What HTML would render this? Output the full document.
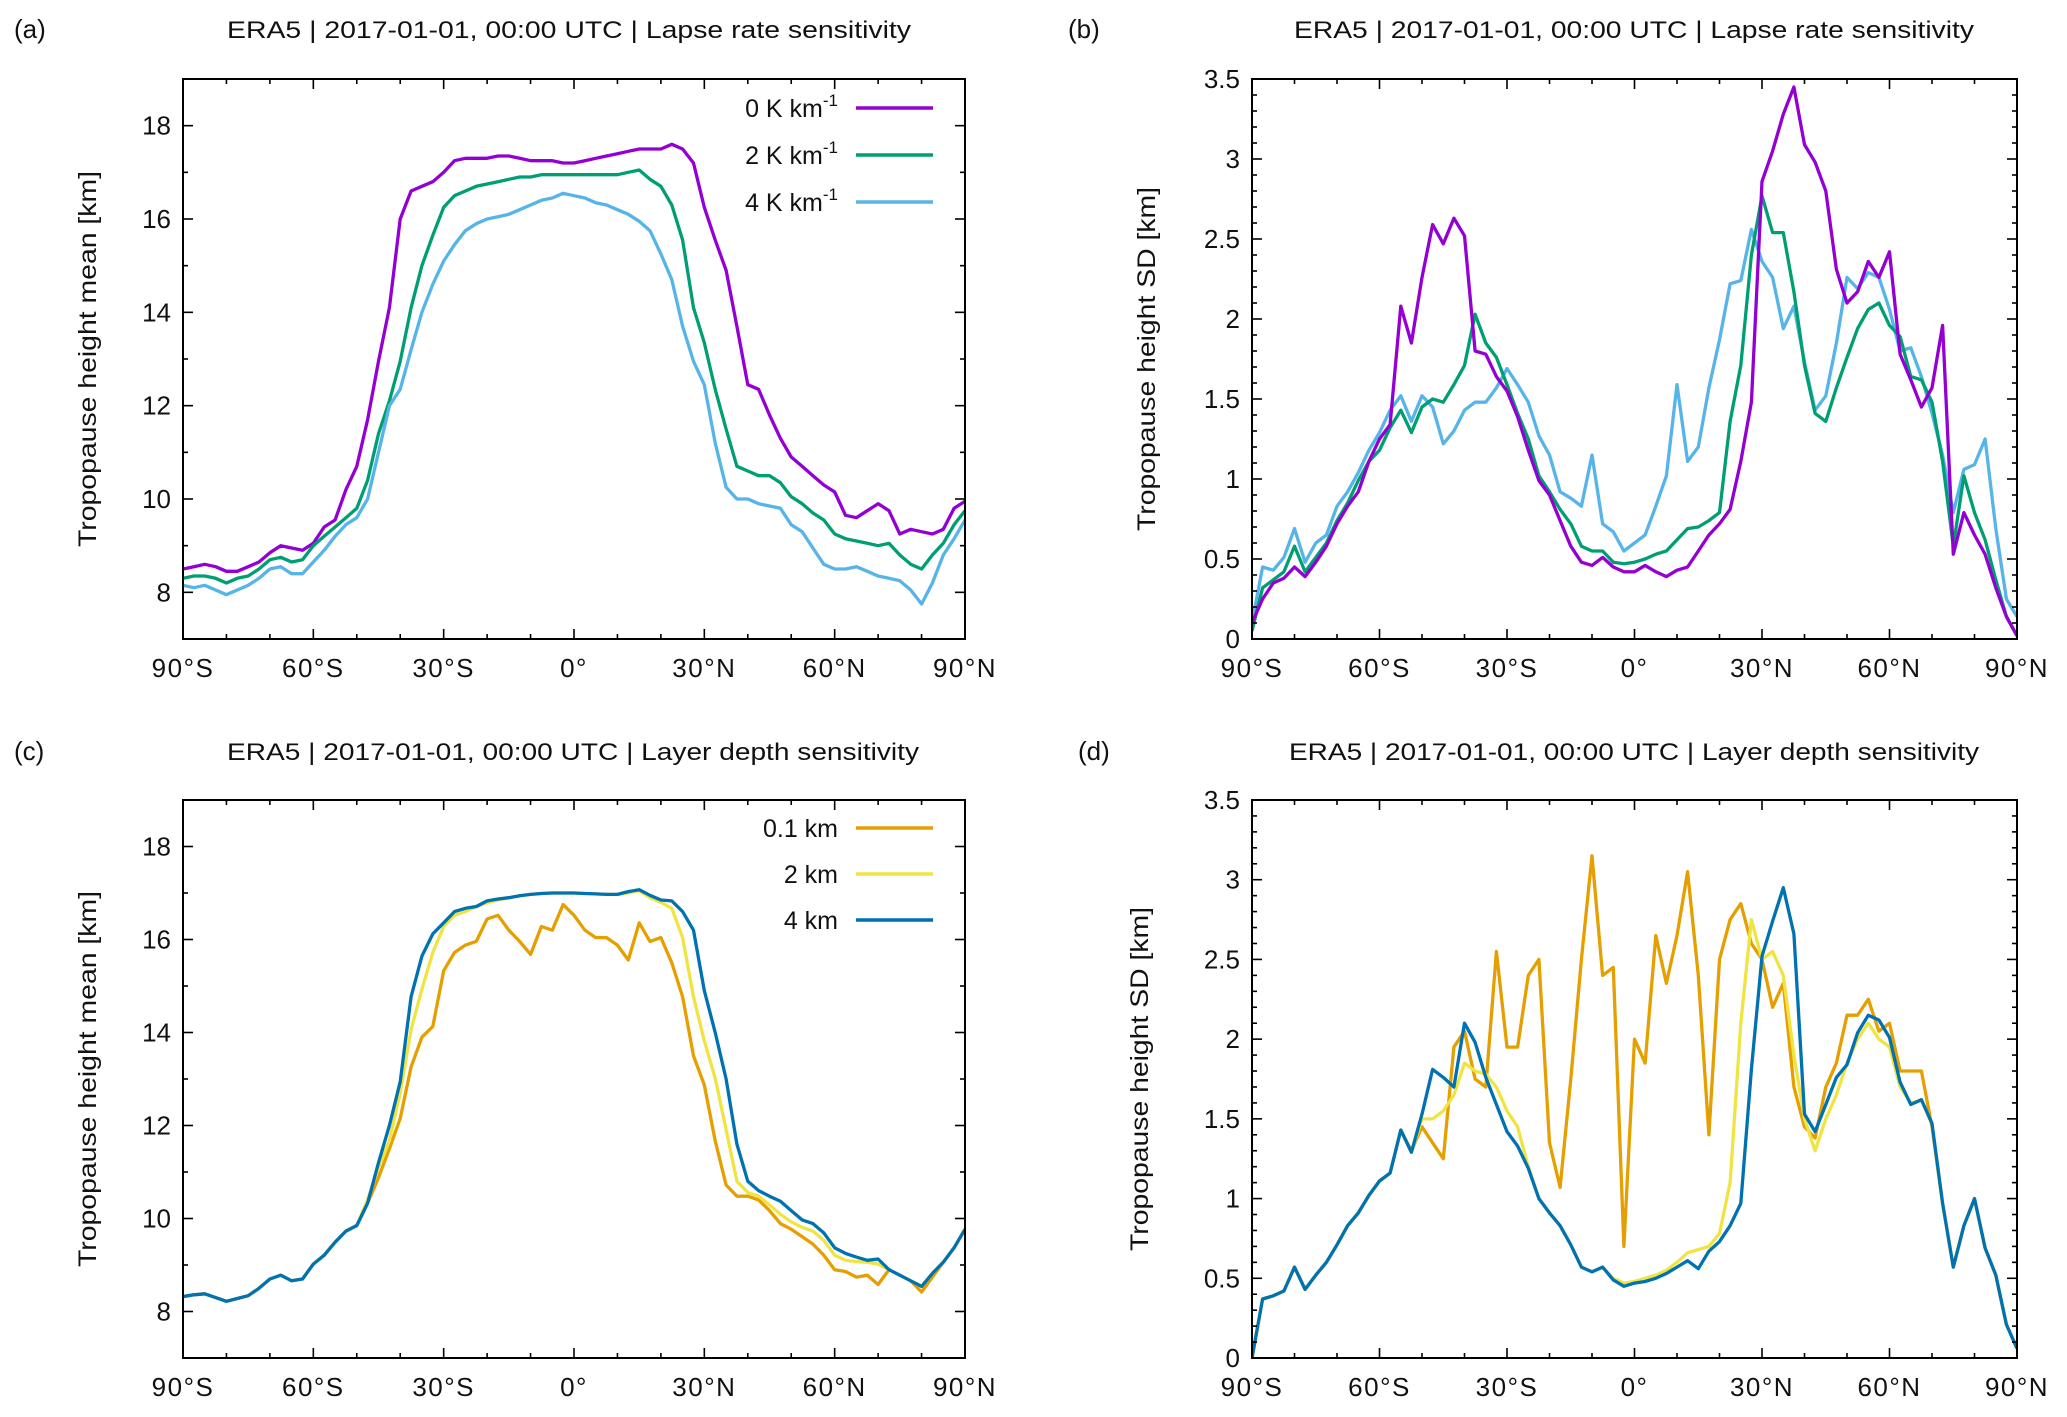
<!DOCTYPE html>
<html><head><meta charset="utf-8"><style>
html,body{margin:0;padding:0;background:#fff;}
svg{display:block;font-family:"Liberation Sans",sans-serif;}
</style></head><body>
<svg id="fig" width="2067" height="1417" viewBox="0 0 2067 1417" xmlns="http://www.w3.org/2000/svg"></svg>
<script>
const lats = [-90,-87.5,-85,-82.5,-80,-77.5,-75,-72.5,-70,-67.5,-65,-62.5,-60,-57.5,-55,-52.5,-50,-47.5,-45,-42.5,-40,-37.5,-35,-32.5,-30,-27.5,-25,-22.5,-20,-17.5,-15,-12.5,-10,-7.5,-5,-2.5,0,2.5,5,7.5,10,12.5,15,17.5,20,22.5,25,27.5,30,32.5,35,37.5,40,42.5,45,47.5,50,52.5,55,57.5,60,62.5,65,67.5,70,72.5,75,77.5,80,82.5,85,87.5,90];
const xTickVals = [-90,-60,-30,0,30,60,90];
const xTickLabels = ["90°S","60°S","30°S","0°","30°N","60°N","90°N"];
const meanTicks = [8,10,12,14,16,18];
const sdTicks = [0,0.5,1,1.5,2,2.5,3,3.5];
const sdTickLabels = ["0","0.5","1","1.5","2","2.5","3","3.5"];

const aLapse0 = [8.5,8.55,8.6,8.55,8.45,8.45,8.55,8.65,8.85,9.0,
8.95,8.9,9.05,9.4,9.55,10.2,10.7,11.7,12.95,14.1,
16.0,16.6,16.7,16.8,17.0,17.25,17.3,17.3,17.3,17.35,
17.35,17.3,17.25,17.25,17.25,17.2,17.2,17.25,17.3,17.35,
17.4,17.45,17.5,17.5,17.5,17.6,17.5,17.2,16.25,15.55,
14.9,13.7,12.45,12.35,11.8,11.3,10.9,10.7,10.5,10.3,
10.15,9.65,9.6,9.75,9.9,9.75,9.25,9.35,9.3,9.25,
9.35,9.8,9.95];
const aLapse2 = [8.3,8.35,8.35,8.3,8.2,8.3,8.35,8.5,8.7,8.75,
8.65,8.7,9.0,9.2,9.4,9.6,9.8,10.4,11.4,12.1,
12.95,14.1,15.0,15.65,16.25,16.5,16.6,16.7,16.75,16.8,
16.85,16.9,16.9,16.95,16.95,16.95,16.95,16.95,16.95,16.95,
16.95,17.0,17.05,16.85,16.7,16.3,15.55,14.1,13.35,12.35,
11.5,10.7,10.6,10.5,10.5,10.35,10.05,9.9,9.7,9.55,
9.25,9.15,9.1,9.05,9.0,9.05,8.8,8.6,8.5,8.8,
9.05,9.45,9.75];
const aLapse4 = [8.15,8.1,8.15,8.05,7.95,8.05,8.15,8.3,8.5,8.55,
8.4,8.4,8.65,8.9,9.2,9.45,9.6,10.0,11.0,12.0,
12.35,13.2,14.0,14.6,15.1,15.45,15.75,15.9,16.0,16.05,
16.1,16.2,16.3,16.4,16.45,16.55,16.5,16.45,16.35,16.3,
16.2,16.1,15.95,15.75,15.25,14.7,13.7,12.95,12.45,11.2,
10.25,10.0,10.0,9.9,9.85,9.8,9.45,9.3,8.95,8.6,
8.5,8.5,8.55,8.45,8.35,8.3,8.25,8.05,7.75,8.2,
8.8,9.15,9.55];

const bLapse0 = [0.1,0.25,0.35,0.38,0.45,0.39,0.48,0.58,0.72,0.83,
0.92,1.11,1.25,1.34,2.08,1.85,2.26,2.59,2.47,2.63,
2.52,1.8,1.78,1.64,1.55,1.39,1.18,0.99,0.9,0.74,
0.58,0.48,0.46,0.51,0.45,0.42,0.42,0.46,0.42,0.39,
0.43,0.45,0.55,0.65,0.72,0.81,1.11,1.48,2.86,3.05,
3.28,3.45,3.09,2.98,2.8,2.31,2.1,2.17,2.36,2.26,
2.42,1.78,1.62,1.45,1.57,1.96,0.53,0.79,0.65,0.53,
0.32,0.14,0.02];
const bLapse2 = [0.05,0.32,0.37,0.42,0.58,0.42,0.51,0.6,0.74,0.85,
0.99,1.11,1.18,1.32,1.43,1.29,1.45,1.5,1.48,1.59,
1.71,2.03,1.85,1.76,1.59,1.41,1.25,1.02,0.92,0.81,
0.72,0.58,0.55,0.55,0.48,0.47,0.48,0.5,0.53,0.55,
0.62,0.69,0.7,0.74,0.79,1.36,1.71,2.4,2.77,2.54,
2.54,2.17,1.71,1.41,1.36,1.57,1.76,1.94,2.06,2.1,
1.96,1.89,1.64,1.62,1.48,1.11,0.58,1.02,0.79,0.62,
0.37,0.14,0.02];
const bLapse4 = [0.1,0.45,0.43,0.51,0.69,0.48,0.6,0.65,0.83,0.92,
1.04,1.18,1.29,1.43,1.52,1.36,1.52,1.45,1.22,1.3,
1.43,1.48,1.48,1.57,1.69,1.59,1.48,1.27,1.15,0.92,
0.88,0.83,1.15,0.72,0.67,0.55,0.6,0.65,0.83,1.02,
1.59,1.11,1.2,1.57,1.87,2.22,2.24,2.56,2.36,2.26,
1.94,2.08,1.73,1.43,1.52,1.85,2.26,2.19,2.29,2.26,
2.06,1.8,1.82,1.64,1.41,1.15,0.79,1.06,1.09,1.25,
0.69,0.25,0.14];

const cDepth01 = [8.32,8.36,8.38,8.3,8.22,8.28,8.34,8.5,8.7,8.78,
8.66,8.7,9.02,9.21,9.49,9.73,9.85,10.33,10.88,11.5,
12.15,13.26,13.9,14.13,15.33,15.72,15.88,15.96,16.44,16.52,
16.2,15.96,15.68,16.28,16.2,16.75,16.52,16.2,16.04,16.04,
15.88,15.56,16.36,15.96,16.04,15.5,14.77,13.5,12.87,11.67,
10.72,10.48,10.48,10.4,10.17,9.89,9.77,9.61,9.45,9.21,
8.9,8.86,8.74,8.78,8.58,8.9,8.78,8.66,8.42,8.74,
9.06,9.37,9.77];
const cDepth2 = [8.32,8.36,8.38,8.3,8.22,8.28,8.34,8.5,8.7,8.78,
8.66,8.7,9.02,9.21,9.49,9.73,9.85,10.4,11.1,11.67,
12.7,14.06,14.93,15.72,16.28,16.52,16.6,16.71,16.79,16.85,
16.9,16.94,16.97,16.99,17.0,17.0,17.0,16.99,16.98,16.97,
16.97,17.0,17.05,16.9,16.8,16.67,16.04,14.77,13.82,13.02,
11.91,10.8,10.56,10.48,10.29,10.09,9.93,9.81,9.73,9.53,
9.21,9.1,9.07,9.06,9.02,8.9,8.78,8.66,8.54,8.82,
9.06,9.37,9.77];
const cDepth4 = [8.32,8.36,8.38,8.3,8.22,8.28,8.34,8.5,8.7,8.78,
8.66,8.7,9.02,9.21,9.49,9.73,9.85,10.33,11.2,12.0,
12.94,14.77,15.64,16.12,16.36,16.6,16.67,16.71,16.83,16.87,
16.9,16.94,16.97,16.99,17.0,17.0,17.0,16.99,16.98,16.97,
16.97,17.03,17.07,16.95,16.85,16.83,16.6,16.2,14.9,14.0,
13.0,11.6,10.8,10.6,10.48,10.37,10.17,9.97,9.89,9.69,
9.37,9.25,9.17,9.1,9.13,8.9,8.78,8.66,8.54,8.82,
9.06,9.37,9.77];

const dDepth01 = [0,0.37,0.39,0.42,0.57,0.43,0.52,0.6,0.71,0.83,
0.91,1.02,1.11,1.16,1.43,1.3,1.45,1.35,1.25,1.95,
2.05,1.75,1.7,2.55,1.95,1.95,2.4,2.5,1.35,1.07,
1.75,2.5,3.15,2.4,2.45,0.7,2.0,1.85,2.65,2.35,
2.65,3.05,2.4,1.4,2.5,2.75,2.85,2.6,2.5,2.2,
2.35,1.7,1.45,1.38,1.7,1.85,2.15,2.15,2.25,2.05,
2.1,1.8,1.8,1.8,1.45,0.97,0.57,0.83,1.0,0.69,
0.52,0.21,0.06];
const dDepth2 = [0,0.37,0.39,0.42,0.57,0.43,0.52,0.6,0.71,0.83,
0.91,1.02,1.11,1.16,1.43,1.29,1.5,1.5,1.55,1.65,
1.85,1.8,1.78,1.7,1.55,1.45,1.2,1.0,0.91,0.83,
0.71,0.57,0.54,0.57,0.5,0.47,0.48,0.5,0.52,0.55,
0.6,0.66,0.68,0.7,0.78,1.1,2.1,2.75,2.5,2.55,
2.4,1.9,1.5,1.3,1.5,1.65,1.85,2.0,2.1,2.0,
1.95,1.7,1.6,1.62,1.47,0.97,0.57,0.83,1.0,0.69,
0.52,0.21,0.06];
const dDepth4 = [0,0.37,0.39,0.42,0.57,0.43,0.52,0.6,0.71,0.83,
0.91,1.02,1.11,1.16,1.43,1.29,1.53,1.81,1.76,1.7,
2.1,1.98,1.76,1.59,1.42,1.33,1.19,1.0,0.91,0.83,
0.71,0.57,0.54,0.57,0.49,0.45,0.47,0.48,0.5,0.53,
0.57,0.61,0.56,0.67,0.73,0.83,0.97,1.81,2.52,2.74,
2.95,2.66,1.53,1.42,1.59,1.76,1.84,2.04,2.15,2.12,
2.01,1.73,1.59,1.62,1.47,0.97,0.57,0.83,1.0,0.69,
0.52,0.21,0.06];

const NS = "http://www.w3.org/2000/svg";
const svg = document.getElementById('fig');
function mk(tag, attrs, parent, text) {
  const e = document.createElementNS(NS, tag);
  for (const k in attrs) e.setAttribute(k, attrs[k]);
  if (text !== undefined) e.textContent = text;
  (parent || svg).appendChild(e);
  return e;
}
const C = {p:'#9400d3', g:'#009e73', lb:'#56b4e9', o:'#e69f00', y:'#f0e442', b:'#0072b2'};

function panel(cfg) {
  const g = mk('g', {});
  
  
  const {x0, x1, y0, y1, ymin, ymax} = cfg;
  const sx = v => x0 + (v + 90) / 180 * (x1 - x0);
  const sy = v => y1 - (v - ymin) / (ymax - ymin) * (y1 - y0);
  // panel letter
  const lt = mk('text', {x: cfg.lx, y: cfg.ty, 'font-size': 26, fill: '#111'}, g, cfg.letter);
  
  
  const tt = mk('text', {x: cfg.tcx, y: cfg.ty, 'font-size': 24, 'text-anchor': 'middle', fill: '#111', textLength: cfg.tw, lengthAdjust: 'spacingAndGlyphs'}, g, cfg.title);
  
  
  // y title
  const yc = (y0 + y1) / 2;
  const yt = mk('text', {x: 0, y: 0, transform: `translate(${cfg.ytx},${yc}) rotate(-90)`, 'font-size': 25, 'text-anchor': 'middle', fill: '#111', textLength: cfg.ytw, lengthAdjust: 'spacingAndGlyphs'}, g, cfg.ytitle);
  
  
  // clip
  const cid = 'clip-' + cfg.letter.replace(/[()]/g, '');
  const cp = mk('clipPath', {id: cid}, g);
  mk('rect', {x: x0, y: y0, width: x1 - x0, height: y1 - y0}, cp);
  // series
  const sg = mk('g', {'clip-path': `url(#${cid})`}, g);
  cfg.series.forEach(s => {
    const n = Math.min(lats.length, s.data.length);
    let d = '';
    for (let i = 0; i < n; i++) d += (i ? 'L' : 'M') + sx(lats[i]).toFixed(1) + ',' + sy(s.data[i]).toFixed(1);
    const p = mk('path', {d, fill: 'none', stroke: s.color, 'stroke-width': 3.3, 'stroke-linejoin': 'round'}, sg);
    
    
  });
  // ticks
  const tk = mk('g', {stroke: '#000', 'stroke-width': 1.6}, g);
  for (let v = -90; v <= 90; v += 10) {
    const L = (v % 30 === 0) ? 10 : 5;
    const x = sx(v);
    mk('line', {x1: x, y1: y1, x2: x, y2: y1 - L}, tk);
    mk('line', {x1: x, y1: y0, x2: x, y2: y0 + L}, tk);
  }
  for (let k = 0; ; k++) {
    const v = ymin + k * cfg.minor;
    if (v > ymax + 1e-6) break;
    const isMaj = cfg.majors.some(m => Math.abs(m - v) < 1e-6);
    const L = isMaj ? 10 : 5;
    const y = sy(v);
    mk('line', {x1: x0, y1: y, x2: x0 + L, y2: y}, tk);
    mk('line', {x1: x1, y1: y, x2: x1 - L, y2: y}, tk);
  }
  // frame
  const fr = mk('rect', {x: x0, y: y0, width: x1 - x0, height: y1 - y0, fill: 'none', stroke: '#000', 'stroke-width': 2}, g);
  
  
  // tick labels
  xTickVals.forEach((v, i) => {
    const t = mk('text', {x: sx(v), y: y1 + 38, 'font-size': 26, 'text-anchor': 'middle', fill: '#111', 'letter-spacing': 1.5}, g, xTickLabels[i]);
    
    
  });
  cfg.majors.forEach((v, i) => {
    const t = mk('text', {x: x0 - 12, y: sy(v) + 9, 'font-size': 26, 'text-anchor': 'end', fill: '#111'}, g, cfg.majorLabels[i]);
    
    
  });
  // legend
  if (cfg.legend) {
    cfg.series.forEach((s, i) => {
      const ly = cfg.legY + i * cfg.legDy;
      const lg = mk('g', {}, g);
      
      
      const t = mk('text', {x: cfg.legTx, y: ly + 9, 'font-size': 25, 'text-anchor': 'end', fill: '#111'}, lg);
      if (s.sup) {
        mk('tspan', {}, t, s.label);
        mk('tspan', {'font-size': 17, dy: -11}, t, s.sup);
      } else t.textContent = s.label;
      mk('line', {x1: cfg.legTx + 18, x2: cfg.legTx + 95, y1: ly, y2: ly, stroke: s.color, 'stroke-width': 3.5}, lg);
    });
  }
}

const meanLabels = meanTicks.map(String);
const titleLapse = 'ERA5 | 2017-01-01, 00:00 UTC | Lapse rate sensitivity';
const titleDepth = 'ERA5 | 2017-01-01, 00:00 UTC | Layer depth sensitivity';

panel({name:'panel-a', letter:'(a)', lx:14, tcx:569, tw:684, ty:38, title:titleLapse,
  x0:183, x1:965, y0:79, y1:639, ymin:7, ymax:19, minor:1, majors:meanTicks, majorLabels:meanLabels,
  ytitle:'Tropopause height mean [km]', ytx:96, ytw:376, legend:true, legTx:838, legY:108, legDy:47,
  series:[{name:'line-0-K-km', color:C.p, data:aLapse0, label:'0 K km', sup:'-1'},
          {name:'line-2-K-km', color:C.g, data:aLapse2, label:'2 K km', sup:'-1'},
          {name:'line-4-K-km', color:C.lb, data:aLapse4, label:'4 K km', sup:'-1'}]});
panel({name:'panel-b', letter:'(b)', lx:1068, tcx:1634, tw:680, ty:38, title:titleLapse,
  x0:1252, x1:2017, y0:79, y1:639, ymin:0, ymax:3.5, minor:0.1, majors:sdTicks, majorLabels:sdTickLabels,
  ytitle:'Tropopause height SD [km]', ytx:1155, ytw:344, legend:false,
  series:[{name:'line-4-K-km', color:C.lb, data:bLapse4},
          {name:'line-2-K-km', color:C.g, data:bLapse2},
          {name:'line-0-K-km', color:C.p, data:bLapse0}]});
panel({name:'panel-c', letter:'(c)', lx:14, tcx:573, tw:692, ty:760, title:titleDepth,
  x0:183, x1:965, y0:800, y1:1358, ymin:7, ymax:19, minor:1, majors:meanTicks, majorLabels:meanLabels,
  ytitle:'Tropopause height mean [km]', ytx:96, ytw:376, legend:true, legTx:838, legY:828, legDy:46,
  series:[{name:'line-0.1-km', color:C.o, data:cDepth01, label:'0.1 km'},
          {name:'line-2-km', color:C.y, data:cDepth2, label:'2 km'},
          {name:'line-4-km', color:C.b, data:cDepth4, label:'4 km'}]});
panel({name:'panel-d', letter:'(d)', lx:1078, tcx:1634, tw:690, ty:760, title:titleDepth,
  x0:1252, x1:2017, y0:800, y1:1358, ymin:0, ymax:3.5, minor:0.1, majors:sdTicks, majorLabels:sdTickLabels,
  ytitle:'Tropopause height SD [km]', ytx:1148, ytw:344, legend:false,
  series:[{name:'line-0.1-km', color:C.o, data:dDepth01},
          {name:'line-2-km', color:C.y, data:dDepth2},
          {name:'line-4-km', color:C.b, data:dDepth4}]});
</script>
</body></html>
